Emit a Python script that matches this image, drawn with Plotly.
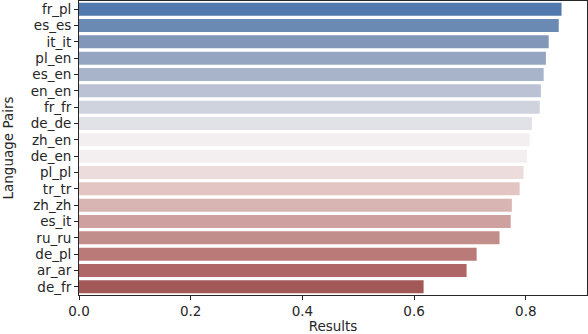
import plotly.graph_objects as go

# Language pairs, top to bottom
pairs = ["fr_pl", "es_es", "it_it", "pl_en", "es_en", "en_en", "fr_fr", "de_de", "zh_en",
         "de_en", "pl_pl", "tr_tr", "zh_zh", "es_it", "ru_ru", "de_pl", "ar_ar", "de_fr"]
results = [0.864, 0.859, 0.841, 0.836, 0.832, 0.827, 0.825, 0.811, 0.807,
           0.802, 0.796, 0.789, 0.775, 0.773, 0.753, 0.712, 0.694, 0.617]
# desaturated "vlag" palette, blue -> red
colors = ["#5279ad", "#6a89b3", "#8196b8", "#93a5c1", "#a7b4c9", "#bbc2d4", "#cfd3de",
          "#e1e2e7", "#f3eff0", "#f3eff0", "#ecdcdb", "#e3c5c4", "#d8b5b2", "#cea1a0",
          "#c28e8b", "#b97a78", "#ae6766", "#a35858"]

fig = go.Figure(go.Bar(
    x=results, y=pairs, orientation="h",
    marker=dict(color=colors, line=dict(width=0)),
    width=0.8,
))

font = dict(family="DejaVu Sans", size=13.5, color="#262626")
axis_common = dict(
    showgrid=False, zeroline=False, showline=True, mirror=True,
    linecolor="#262626", linewidth=1, automargin=False,
    ticks="outside", ticklen=4, tickcolor="#262626",
    tickfont=font,
)

fig.update_layout(
    width=588, height=334,
    margin=dict(l=79, r=1, t=1, b=39),
    plot_bgcolor="white", paper_bgcolor="white",
    showlegend=False,
    xaxis=dict(range=[0, 0.9096], tickvals=[0, 0.2, 0.4, 0.6, 0.8],
               ticktext=["0.0", "0.2", "0.4", "0.6", "0.8"],
               title=dict(text="Results", standoff=2, font=font),
               **axis_common),
    yaxis=dict(autorange=False, range=[17.5, -0.5], categoryorder="array", categoryarray=pairs,
               title=dict(text="Language Pairs", standoff=14, font=font),
               **axis_common),
)

# drop the browser's default page margin so the figure sits at the corner
fig.write_html("out.html", config={"displayModeBar": False},
               post_script="document.body.style.margin='0px';")
